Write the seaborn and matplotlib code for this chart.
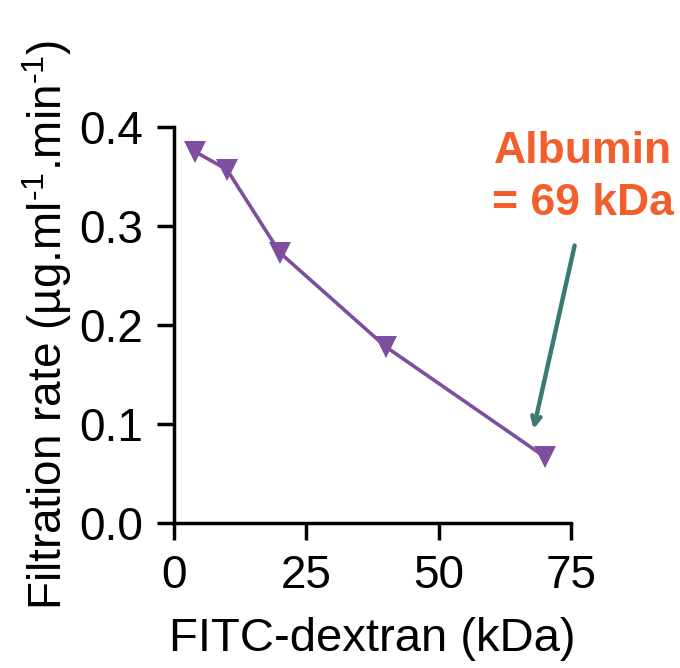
import matplotlib
matplotlib.use("Agg")
import matplotlib.pyplot as plt
import seaborn as sns
import pandas as pd

# Data
dextran_kda = [4, 10, 20, 40, 70]
filtration_rate = [0.375, 0.357, 0.273, 0.178, 0.067]
x_ticks = [0, 25, 50, 75]
y_ticks = [0.0, 0.1, 0.2, 0.3, 0.4]
annotation_text = "Albumin\n= 69 kDa"

sns.set_theme(style="ticks")
plt.rcParams['font.family'] = ['Liberation Sans', 'DejaVu Sans']
plt.rcParams['mathtext.fontset'] = 'custom'
plt.rcParams['mathtext.rm'] = 'Liberation Sans'
plt.rcParams['mathtext.it'] = 'Liberation Sans:italic'
plt.rcParams['mathtext.bf'] = 'Liberation Sans:bold'

df = pd.DataFrame({"kDa": dextran_kda, "rate": filtration_rate})

fig = plt.figure(figsize=(6.8, 6.68), dpi=100)
ax = fig.add_axes([0.2559, 0.2171, 0.5838, 0.5928])

purple = "#7d4f9e"
sns.lineplot(data=df, x="kDa", y="rate", ax=ax, color=purple, linewidth=2.6,
             marker="v", markersize=16, markeredgewidth=0, markerfacecolor=purple,
             clip_on=False)

ax.set_xlim(0, 75)
ax.set_ylim(0, 0.4)
ax.set_xticks(x_ticks)
ax.set_yticks(y_ticks)
ax.set_xticklabels([str(t) for t in x_ticks])
ax.set_yticklabels([f"{t:.1f}" for t in y_ticks])
sns.despine(ax=ax)
for s in ["left", "bottom"]:
    ax.spines[s].set_linewidth(2.5)
    ax.spines[s].set_color("black")
ax.tick_params(axis="both", direction="out", length=12, width=2.5, color="black",
               labelsize=33, labelcolor="black")
ax.tick_params(axis="x", pad=10)
ax.tick_params(axis="y", pad=10)

ax.set_xlabel("FITC-dextran (kDa)", fontsize=34, color="black", labelpad=14)
ax.set_ylabel("Filtration rate (µg.ml$^{\\text{-1}}$.min$^{\\text{-1}}$)", fontsize=33,
              color="black", labelpad=4)

ax.annotate("", xy=(67.8, 0.092), xytext=(75.8, 0.283),
            arrowprops=dict(arrowstyle="->,head_length=0.5,head_width=0.25",
                            color="#3b7a72", lw=3.2),
            annotation_clip=False)
ax.text(77.3, 0.349, annotation_text, ha="center", va="center", fontsize=32,
        fontweight="bold", color="#f25f2c", linespacing=1.35, clip_on=False)

fig.savefig("out.png", dpi=100)
